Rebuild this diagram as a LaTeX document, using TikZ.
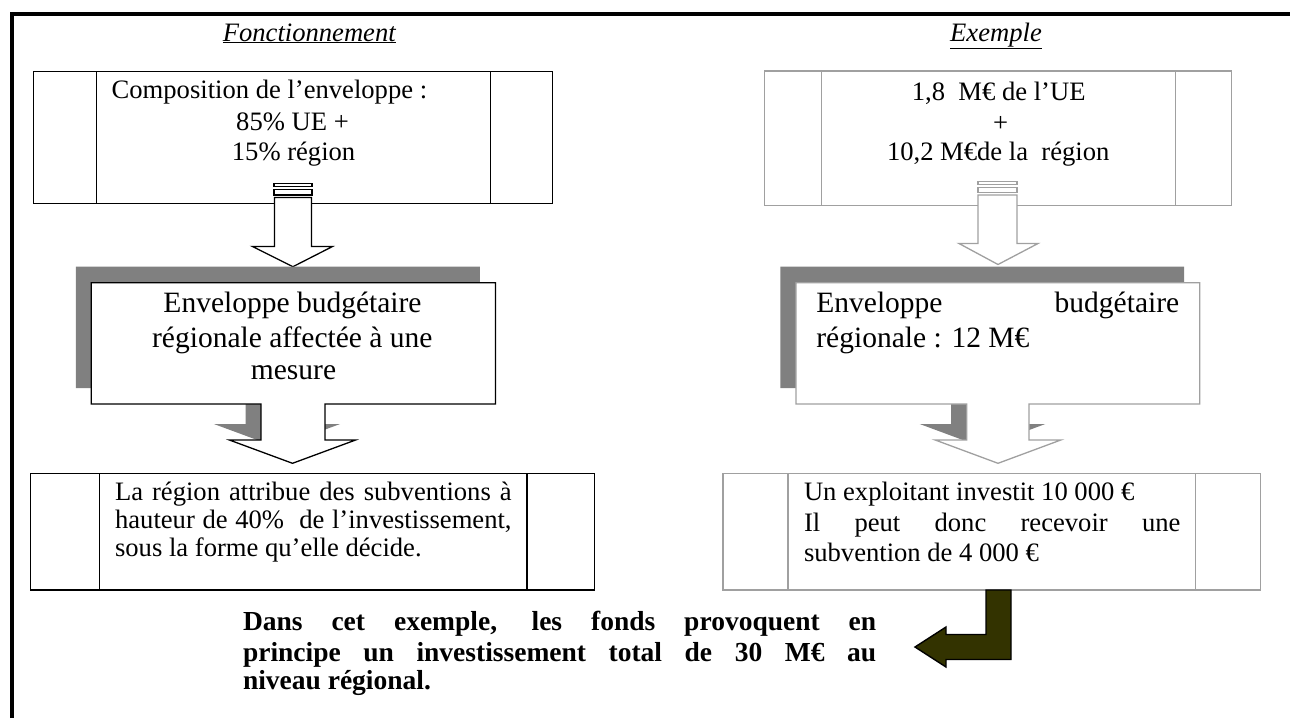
\documentclass[tikz,border=0pt]{standalone}
\usepackage{fontspec}
\setmainfont{Liberation Serif}
\usetikzlibrary{calc}
\definecolor{shadowgray}{HTML}{808080}
\definecolor{lightline}{HTML}{A0A0A0}
\definecolor{darkolive}{HTML}{333300}
\begin{document}
\begin{tikzpicture}[x=1pt,y=-1pt,
  frameline/.style={line width=3.5pt, draw=black},
  blackbox/.style={draw=black, line width=1.3pt, fill=white, inner sep=0pt, outer sep=0pt},
  graybox/.style={draw=lightline, line width=1.3pt, fill=white, inner sep=0pt, outer sep=0pt},
  blackline/.style={draw=black, line width=1.3pt},
  grayline/.style={draw=lightline, line width=1.3pt},
  txt/.style={inner sep=0pt, font=\fontsize{26.6}{30.6}\selectfont},
  bigtxt/.style={inner sep=0pt, font=\fontsize{29.5}{34}\selectfont},
  boldtxt/.style={inner sep=0pt, font=\fontsize{27.5}{31}\selectfont\bfseries},
  titletxt/.style={inner sep=0pt, font=\fontsize{26.6}{30.6}\selectfont\itshape},
  shadowfill/.style={fill=shadowgray},
  bentarrow/.style={draw=black, line width=1.4pt, fill=darkolive},
]
\useasboundingbox (0,0) rectangle (1290,718);
\draw[frameline] (12,718) -- (12,14) -- (1290,14);

% titles
\node[titletxt, anchor=base] (t1) at (309.3,41) {\underline{Fonctionnement}};
\node[titletxt, anchor=base] (t2) at (996,41) {\underline{Exemple}};

% ---------- left column ----------
\node[blackbox, minimum width=519pt, minimum height=131.6pt] (box1) at (293.15,137.5) {};
\draw[blackline] ([xshift=63.1pt]box1.north west) -- ([xshift=63.1pt]box1.south west);
\draw[blackline] ([xshift=-62.3pt]box1.north east) -- ([xshift=-62.3pt]box1.south east);
\node[txt, anchor=base west] (c1) at (111.5,98.5) {Composition de l’enveloppe :};
\node[txt, anchor=base] (c2) at (292.5,130) {85\% UE +};
\node[txt, anchor=base] (c3) at (293.6,160) {15\% région};

% striped arrow left
\draw[blackline, fill=white] (274,183.8) rectangle (312,186.8);
\draw[blackline, fill=white] (274,189.8) rectangle (312,195);
\draw[blackline, fill=white] (274.4,197.5) -- (311.4,197.5) -- (311.4,246.5) -- (332.5,246.5)
  -- (292.9,266.7) -- (252.5,246.5) -- (274.4,246.5) -- cycle;

% callout left
\begin{scope}[shift={(-15.5,-16)}]
\fill[shadowfill] (91.3,282.7) -- (495.4,282.7) -- (495.4,404) -- (325,404) -- (325,440)
  -- (355.6,440) -- (292.5,463.3) -- (229.4,440) -- (261,440) -- (261,404) -- (91.3,404) -- cycle;
\end{scope}
\draw[blackline, fill=white] (91.3,282.7) -- (495.4,282.7) -- (495.4,404) -- (325,404) -- (325,440)
  -- (355.6,440) -- (292.5,463.3) -- (229.4,440) -- (261,440) -- (261,404) -- (91.3,404) -- cycle;
\node[bigtxt, anchor=base] (m1) at (292.5,312.5) {Enveloppe budgétaire};
\node[bigtxt, anchor=base] (m2) at (292.3,347.3) {régionale affectée à une};
\node[bigtxt, anchor=base] (m3) at (293.5,379) {mesure};

% bottom-left box
\node[blackbox, minimum width=564.4pt, minimum height=116.7pt] (box3) at (312.5,531.65) {};
\draw[blackline] ([xshift=69.4pt]box3.north west) -- ([xshift=69.4pt]box3.south west);
\draw[blackline] ([xshift=-67.7pt]box3.north east) -- ([xshift=-67.7pt]box3.south east);
\node[txt, anchor=base west] (b1) at (114.9,500.5) {\makebox[396.5pt][s]{La région attribue des subventions à}};
\node[txt, anchor=base west] (b2) at (114.9,528.5) {\makebox[396.5pt][s]{hauteur de 40\%\ \ de l’investissement,}};
\node[txt, anchor=base west] (b3) at (114.9,556.5) {sous la forme qu’elle décide.};

% ---------- right column ----------
\node[graybox, minimum width=467.2pt, minimum height=134.7pt] (box4) at (998,138.35) {};
\draw[grayline] ([xshift=56.8pt]box4.north west) -- ([xshift=56.8pt]box4.south west);
\draw[grayline] ([xshift=-56pt]box4.north east) -- ([xshift=-56pt]box4.south east);
\node[txt, anchor=base] (e1) at (998.7,100) {1,8\ \ M€ de l’UE};
\node[txt, anchor=base] (e2) at (1000.7,131) {+};
\node[txt, anchor=base] (e3) at (998.2,160) {10,2 M€de la\ \ région};

% striped arrow right
\draw[grayline, fill=white] (978,181.7) rectangle (1017,184.5);
\draw[grayline, fill=white] (978,187.7) rectangle (1017,192.3);
\draw[grayline, fill=white] (978,195) -- (1017,195) -- (1017,243.5) -- (1038,243.5)
  -- (998,264.5) -- (959,243.5) -- (978,243.5) -- cycle;

% callout right
\begin{scope}[shift={(-15.5,-16)}]
\fill[shadowfill] (795.9,282.7) -- (1199.7,282.7) -- (1199.7,404) -- (1029,404) -- (1029,440)
  -- (1060.8,440) -- (998,463.3) -- (935.2,440) -- (966.7,440) -- (966.7,404) -- (795.9,404) -- cycle;
\end{scope}
\draw[grayline, fill=white] (795.9,282.7) -- (1199.7,282.7) -- (1199.7,404) -- (1029,404) -- (1029,440)
  -- (1060.8,440) -- (998,463.3) -- (935.2,440) -- (966.7,440) -- (966.7,404) -- (795.9,404) -- cycle;
\node[bigtxt, anchor=base west] (n1) at (816.2,312.5) {\makebox[362.8pt][s]{Enveloppe budgétaire}};
\node[bigtxt, anchor=base west] (n2) at (816.2,347.3) {régionale : 12 M€};

% bottom-right box
\node[graybox, minimum width=537.7pt, minimum height=116.7pt] (box6) at (991.75,531.65) {};
\draw[grayline] ([xshift=65.1pt]box6.north west) -- ([xshift=65.1pt]box6.south west);
\draw[grayline] ([xshift=-65pt]box6.north east) -- ([xshift=-65pt]box6.south east);
\node[txt, anchor=base west] (r1) at (803.8,500) {Un exploitant investit 10~000 €};
\node[txt, anchor=base west] (r2) at (803.8,531.5) {\makebox[376.4pt][s]{Il peut donc recevoir une}};
\node[txt, anchor=base west] (r3) at (803.8,561.5) {subvention de 4~000 €};

% bent arrow
\draw[bentarrow] (986,590) -- (1011,590) -- (1011,659.5) -- (946,659.5) -- (946,667) -- (915,647)
  -- (946,627) -- (946,634.5) -- (986,634.5) -- cycle;

% bold conclusion
\node[boldtxt, anchor=base west] (k1) at (242.8,630) {\makebox[633.2pt][s]{Dans cet exemple, les fonds provoquent en}};
\node[boldtxt, anchor=base west] (k2) at (242.8,661) {\makebox[633.2pt][s]{principe un investissement total de 30 M€ au}};
\node[boldtxt, anchor=base west] (k3) at (242.8,689) {niveau régional.};
\end{tikzpicture}
\end{document}
